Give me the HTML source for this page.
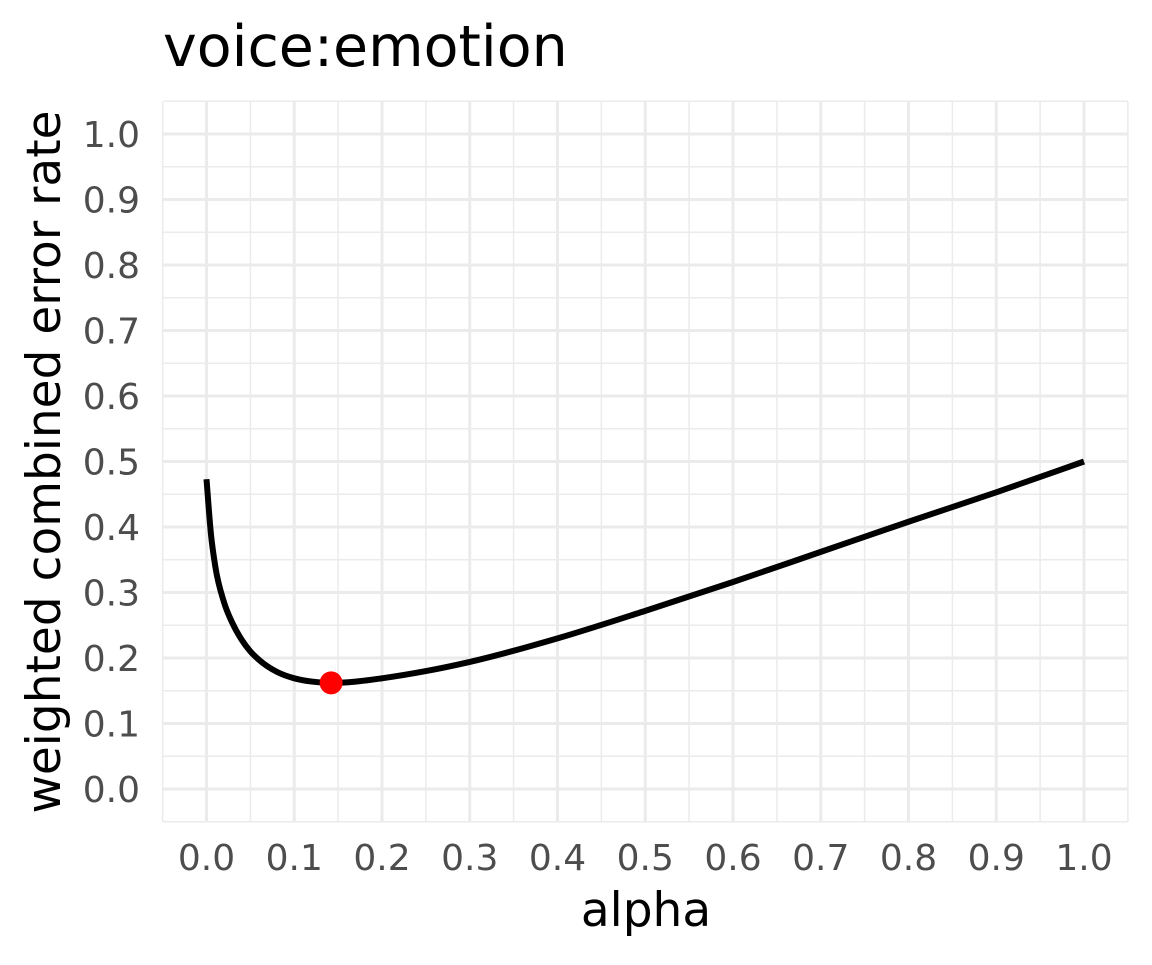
<!DOCTYPE html>
<html><head><meta charset="utf-8"><style>
body{margin:0;background:#fff;}
svg text{font-family:"DejaVu Sans","Liberation Sans",sans-serif;}
</style></head><body>
<svg id="chart" width="1152" height="960" xmlns="http://www.w3.org/2000/svg">
<text x="163" y="66" font-size="57" fill="#000">voice:emotion</text>
<g id="grid"></g>
<g id="xt"></g>
<g id="yt"></g>
<text x="646" y="926" font-size="47" text-anchor="middle" fill="#000">alpha</text>
<text transform="translate(60,462) rotate(-90)" font-size="47" text-anchor="middle" fill="#000">weighted combined error rate</text>
<path id="curve" fill="none" stroke="#000" stroke-width="6" stroke-linejoin="round"/>
<circle id="minpt" r="11.5" fill="#ff0000"/>
</svg>
<script>
const alphas=[0,0.005,0.01,0.02,0.03,0.04,0.05,0.06,0.08,0.1,0.12,0.142,0.17,0.2,0.25,0.3,0.4,0.5,0.6,0.7,0.8,0.9,1.0];
const errs=[0.473,0.39,0.34,0.285,0.252,0.228,0.21,0.197,0.179,0.169,0.164,0.162,0.164,0.169,0.18,0.194,0.23,0.272,0.316,0.362,0.408,0.453,0.5];
const minAlpha=0.142, minErr=0.162;
const ticks=[0,0.1,0.2,0.3,0.4,0.5,0.6,0.7,0.8,0.9,1.0];
const X=v=>206.5+v*877.5, Y=v=>789-v*655;
const ns="http://www.w3.org/2000/svg";
const g=document.getElementById('grid');
function line(x1,y1,x2,y2,w,name){const l=document.createElementNS(ns,'line');
l.setAttribute('x1',x1);l.setAttribute('y1',y1);l.setAttribute('x2',x2);l.setAttribute('y2',y2);
l.setAttribute('stroke','#ebebeb');l.setAttribute('stroke-width',w);


g.appendChild(l);}
for(let i=-1;i<=21;i++){const v=i*0.05;const major=i%2===0;
 line(X(v),102,X(v),822,major?3:1.5,'x-gridline');
 line(163,Y(v),1128,Y(v),major?3:1.5,'y-gridline');}
const xt=document.getElementById('xt'),yt=document.getElementById('yt');
ticks.forEach(t=>{let a=document.createElementNS(ns,'text');a.setAttribute('x',X(t));a.setAttribute('y',870);
a.setAttribute('text-anchor','middle');a.setAttribute('font-size','36');a.setAttribute('fill','#4d4d4d');a.textContent=t.toFixed(1);


xt.appendChild(a);
let b=document.createElementNS(ns,'text');b.setAttribute('x',140);b.setAttribute('y',Y(t)+13);
b.setAttribute('text-anchor','end');b.setAttribute('font-size','36');b.setAttribute('fill','#4d4d4d');b.textContent=t.toFixed(1);


yt.appendChild(b);});
const px=alphas.map(X), py=errs.map(Y), n=px.length;
const h=[],s=[];
for(let i=0;i<n-1;i++){h.push(px[i+1]-px[i]);s.push((py[i+1]-py[i])/h[i]);}
const m=new Array(n);
for(let i=1;i<n-1;i++){
  if(s[i-1]*s[i]<=0){m[i]=0;}
  else{const p=(s[i-1]*h[i]+s[i]*h[i-1])/(h[i-1]+h[i]);
    m[i]=(Math.sign(s[i-1])+Math.sign(s[i]))*Math.min(Math.abs(s[i-1]),Math.abs(s[i]),0.5*Math.abs(p));}
}
m[0]=s[0];m[n-1]=s[n-2];
let d='M'+px[0]+','+py[0];
for(let i=0;i<n-1;i++){const t=h[i]/3;
  d+=` C${px[i]+t},${py[i]+m[i]*t} ${px[i+1]-t},${py[i+1]-m[i+1]*t} ${px[i+1]},${py[i+1]}`;}
document.getElementById('curve').setAttribute('d',d);
const c=document.getElementById('minpt');c.setAttribute('cx',X(minAlpha));c.setAttribute('cy',Y(minErr));
</script>
</body></html>
